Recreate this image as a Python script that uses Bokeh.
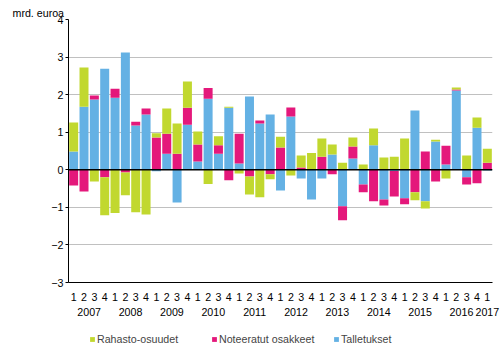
import numpy as np
from bokeh.plotting import figure
from bokeh.layouts import column
from bokeh.models import (ColumnDataSource, FactorRange, FixedTicker, Span,
                          Legend, LegendItem, Title)
from bokeh.embed import file_html
from bokeh.resources import INLINE

years = ["2007", "2008", "2009", "2010", "2011", "2012", "2013", "2014", "2015", "2016", "2017"]
quarters_per_year = [4, 4, 4, 4, 4, 4, 4, 4, 4, 4, 1]

# Talletukset (deposits)
talletukset = [0.49, 1.68, 1.87, 2.69, 1.92, 3.12, 1.18, 1.47,
               -0.04, 0.43, -0.87, 1.20, 0.22, 1.89, 0.43, 1.65,
               0.17, 1.95, 1.23, 1.47, -0.55, 1.42, -0.23, -0.79,
               -0.23, 0.41, -0.97, 0.30, -0.39, 0.65, -0.79, -0.03,
               -0.76, 1.58, -0.84, 0.75, 0.14, 2.11, -0.20, 1.12, -0.02]
# Noteeratut osakkeet (listed shares)
noteeratut = [-0.42, -0.58, 0.11, -0.20, 0.24, -0.07, 0.10, 0.16,
              0.86, 0.53, 0.43, 0.45, 0.45, 0.29, 0.22, -0.28,
              0.79, -0.18, 0.08, -0.12, 0.59, 0.24, 0.06, 0.02,
              0.35, -0.12, -0.37, 0.32, -0.21, -0.84, -0.16, -0.68,
              -0.16, -0.60, 0.49, -0.31, 0.50, 0.03, -0.19, -0.36, 0.19]
# Rahasto-osuudet (fund shares)
rahasto = [0.77, 1.04, -0.31, -1.01, -1.15, -0.61, -1.13, -1.19,
           0.11, 0.67, 0.80, 0.70, 0.35, -0.38, 0.24, 0.03,
           -0.10, -0.48, -0.73, -0.13, 0.29, -0.15, 0.32, 0.43,
           0.48, 0.26, 0.19, 0.24, 0.14, 0.45, 0.33, 0.35,
           0.83, -0.21, -0.19, 0.05, -0.23, 0.05, 0.38, 0.27, 0.37]

series_names = ["Rahasto-osuudet", "Noteeratut osakkeet", "Talletukset"]
y_ticks = [-3, -2, -1, 0, 1, 2, 3, 4]

factors = [(y, str(q + 1)) for y, n in zip(years, quarters_per_year) for q in range(n)]

c_green = "#c1d82f"
c_mag = "#e4187b"
c_blue = "#64b1e4"

b = np.array(talletukset); m = np.array(noteeratut); g = np.array(rahasto)
src = ColumnDataSource(dict(
    x=factors,
    b_pos=np.clip(b, 0, None), m_pos=np.clip(m, 0, None), g_pos=np.clip(g, 0, None),
    b_neg=np.clip(b, None, 0), m_neg=np.clip(m, None, 0), g_neg=np.clip(g, None, 0),
))

font = "Liberation Sans"
fs = "8pt"

p = figure(width=500, height=322, output_backend="svg", toolbar_location=None,
           x_range=FactorRange(*factors, group_padding=0, factor_padding=0, range_padding=0),
           y_range=(-3, 4), min_border_left=68, min_border_right=8,
           min_border_top=19, min_border_bottom=40)
p.outline_line_color = None
p.background_fill_color = "white"

p.title = Title(text="mrd. euroa", text_font=font, text_font_size=fs,
                text_font_style="normal", text_color="black", align="left",
                offset=-56, standoff=2, vertical_align="bottom")

pos = p.vbar_stack(["b_pos", "m_pos", "g_pos"], x="x", width=0.87, source=src,
                   color=[c_blue, c_mag, c_green], line_color=None)
neg = p.vbar_stack(["b_neg", "m_neg", "g_neg"], x="x", width=0.87, source=src,
                   color=[c_blue, c_mag, c_green], line_color=None)

p.add_layout(Span(location=0, dimension="width", line_color="black", line_width=1.5))

p.xgrid.grid_line_color = None
p.ygrid.grid_line_color = "#c0c0c0"
p.ygrid.grid_line_width = 1
p.yaxis.ticker = FixedTicker(ticks=y_ticks)
p.yaxis.axis_line_color = "black"
p.yaxis.major_tick_in = 0
p.yaxis.major_tick_out = 3
p.yaxis.minor_tick_line_color = None
p.yaxis.major_label_text_font = font
p.yaxis.major_label_text_font_size = fs
p.yaxis.major_label_text_color = "black"
p.yaxis.major_label_standoff = 2

p.xaxis.axis_line_color = "black"
p.xaxis.major_tick_line_color = None
p.xaxis.minor_tick_line_color = None
p.xaxis.separator_line_color = None
p.xaxis.major_label_text_font = font
p.xaxis.major_label_text_font_size = fs
p.xaxis.major_label_text_color = "black"
p.xaxis.group_text_font = font
p.xaxis.group_text_font_size = fs
p.xaxis.group_text_font_style = "normal"
p.xaxis.group_text_color = "black"
p.xaxis.major_label_standoff = 4

# legend strip as a separate small figure
p2 = figure(width=500, height=28, output_backend="svg", toolbar_location=None,
            x_range=(0, 1), y_range=(0, 1), min_border=0, min_border_left=0,
            min_border_right=0, min_border_top=0, min_border_bottom=0,
            x_axis_type=None, y_axis_type=None)
p2.outline_line_color = None
p2.grid.grid_line_color = None
dummy = ColumnDataSource(dict(x=[-10.0], top=[0.0]))
leg_rends = [p2.vbar(x="x", top="top", width=0.1, source=dummy, color=c, line_color=None)
             for c in [c_green, c_mag, c_blue]]
leg = Legend(items=[LegendItem(label=n, renderers=[r], index=0)
                    for n, r in zip(series_names, leg_rends)],
             location=(21, 5), orientation="horizontal", glyph_width=6, glyph_height=6,
             label_standoff=2, label_width=114, spacing=0, padding=0, margin=0,
             border_line_color=None, background_fill_alpha=0, label_text_font=font,
             label_text_font_size=fs, label_height=12, label_text_baseline="middle")
p2.add_layout(leg, "center")

layout = column(p, p2, spacing=0)
open("out.html", "w").write(file_html(layout, INLINE))
